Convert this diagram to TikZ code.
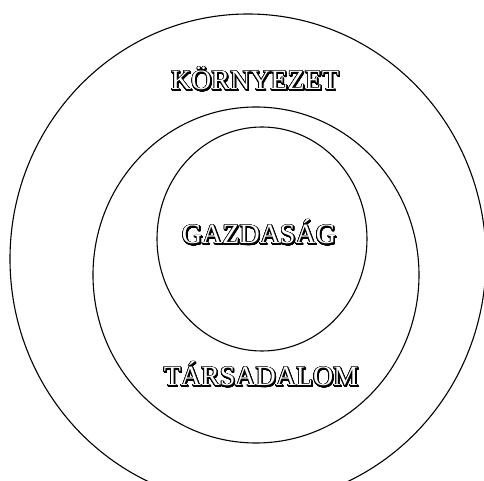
\documentclass[tikz,border=0pt]{standalone}
\usepackage{fontspec}
\setmainfont{Liberation Serif}
\usepackage{contour}
\usetikzlibrary{positioning}
\contourlength{.35pt}
\contournumber{24}
\tikzset{ringline/.style={draw=black,line width=.55pt},
ringlabel/.style={font=\fontsize{14}{16}\selectfont,inner sep=0pt,anchor=base}}
% outlined capitals with a small shadow to the lower right
\newcommand{\hollow}[1]{\rlap{\hspace{.45pt}\raisebox{-.45pt}{\contour{black}{#1}}}\contour{black}{\textcolor{white}{#1}}}

\begin{document}
\begin{tikzpicture}[x=.5pt,y=-.5pt]
\useasboundingbox (0,0) rectangle (484,481);
\draw[ringline] (248,259) ellipse [x radius=238,y radius=245];
\draw[ringline] (256,275) ellipse [x radius=163,y radius=168];
\draw[ringline] (262,239) ellipse [x radius=105,y radius=112];
\node[ringlabel] (kornyezet) at (255,90) {\hollow{KÖRNYEZET}};
\node[ringlabel] (gazdasag) at (259,244) {\hollow{GAZDASÁG}};
\node[ringlabel] (tarsadalom) at (261,386) {\hollow{TÁRSADALOM}};
\end{tikzpicture}
\end{document}
